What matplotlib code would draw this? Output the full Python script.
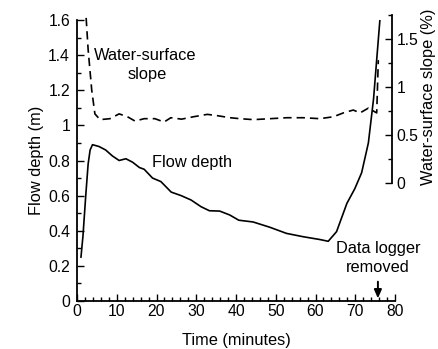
import matplotlib
matplotlib.use("Agg")
import matplotlib.pyplot as plt
from matplotlib.ticker import MultipleLocator

plt.rcParams['font.family'] = ['Liberation Sans', 'DejaVu Sans']

# Flow depth (m) vs time (minutes)
depth_time = [1.0, 1.5, 2.2, 2.8, 3.3, 3.9, 5.5, 7.2, 8.9, 10.6, 12.3, 14.0, 15.7, 16.9,
              19.0, 21.1, 23.7, 26.2, 28.7, 31.2, 33.3, 35.9, 38.4, 40.7, 44.3, 48.5,
              52.7, 56.9, 61.1, 63.2, 65.3, 67.9, 69.9, 71.6, 73.3, 74.6, 76.2]
depth_m = [0.25, 0.37, 0.60, 0.78, 0.86, 0.89, 0.88, 0.86, 0.826, 0.80, 0.81, 0.79, 0.76, 0.75,
           0.70, 0.68, 0.62, 0.60, 0.575, 0.537, 0.514, 0.512, 0.49, 0.46, 0.45, 0.42,
           0.385, 0.366, 0.35, 0.34, 0.395, 0.556, 0.64, 0.73, 0.90, 1.15, 1.60]

# Water-surface slope (%) vs time (minutes)
slope_time = [2.3, 2.8, 3.7, 4.5, 5.8, 8.3, 10.6, 12.7, 14.6, 16.9, 19.6, 21.9, 23.6,
              26.3, 29.3, 32.8, 35.5, 38.5, 41.0, 44.4, 48.6, 52.8, 56.9, 61.1, 64.5,
              67.0, 69.5, 71.2, 73.3, 75.4, 75.8]
slope_pct = [1.72, 1.39, 0.97, 0.72, 0.66, 0.67, 0.72, 0.69, 0.645, 0.67, 0.67, 0.635, 0.68,
             0.665, 0.69, 0.715, 0.70, 0.68, 0.67, 0.66, 0.67, 0.68, 0.68, 0.67, 0.69,
             0.73, 0.76, 0.73, 0.78, 0.73, 1.28]

FS = 11.8
TFS = 11.3

W, H = 438, 349
fig = plt.figure(figsize=(W / 100, H / 100), dpi=100)

x0, x1 = 77, 395
yb, yt = 301, 20
ax = fig.add_axes([x0 / W, (H - yb) / H, (x1 - x0) / W, (yb - yt) / H])
ax.plot(depth_time, depth_m, color='black', lw=1.2)
ax.set_xlim(0, 80)
ax.set_ylim(0, 1.6)
for s in ['top', 'right']:
    ax.spines[s].set_visible(False)
ax.spines['left'].set_linewidth(1.3)
ax.spines['bottom'].set_linewidth(1.3)
ax.xaxis.set_major_locator(MultipleLocator(10))
ax.xaxis.set_minor_locator(MultipleLocator(2))
ax.yaxis.set_major_locator(MultipleLocator(0.2))
ax.yaxis.set_minor_locator(MultipleLocator(0.1))
ax.tick_params(which='both', direction='in', width=1.0, labelsize=TFS, color='black')
ax.tick_params(which='major', length=5)
ax.tick_params(which='minor', length=3)
ax.tick_params(axis='y', pad=5)
ax.tick_params(axis='x', pad=2)
ax.set_yticks([0, 0.2, 0.4, 0.6, 0.8, 1.0, 1.2, 1.4, 1.6])
ax.set_yticklabels(['0', '0.2', '0.4', '0.6', '0.8', '1', '1.2', '1.4', '1.6'])
ax.set_xlabel('Time (minutes)', fontsize=FS, labelpad=10)
ax.set_ylabel('Flow depth (m)', fontsize=FS, labelpad=3)

# Secondary axes for slope
sb, st = 183, 15
ax2 = fig.add_axes([x0 / W, (H - sb) / H, (x1 - x0) / W, (sb - st) / H])
ax2.patch.set_alpha(0)
ax2.plot(slope_time, slope_pct, color='black', lw=1.2, linestyle=(0, (5, 3)))
ax2.set_xlim(0, 80)
ax2.set_ylim(0, 1.75)
for s in ['top', 'left', 'bottom']:
    ax2.spines[s].set_visible(False)
ax2.spines['right'].set_position(('data', 79.2))
ax2.spines['right'].set_linewidth(1.3)
ax2.set_xticks([])
ax2.yaxis.tick_right()
ax2.yaxis.set_major_locator(MultipleLocator(0.5))
ax2.yaxis.set_minor_locator(MultipleLocator(0.25))
ax2.set_yticks([0, 0.5, 1.0, 1.5])
ax2.set_yticklabels(['0', '0.5', '1', '1.5'])
ax2.tick_params(which='both', direction='in', width=1.0, labelsize=TFS, color='black')
ax2.tick_params(which='major', length=5)
ax2.tick_params(which='minor', length=3)

fig.text(429 / W, 1 - 97 / H, 'Water-surface slope (%)', rotation=90,
         ha='center', va='center', fontsize=FS)

ax.text(17.1, 1.40, 'Water-surface', ha='center', va='center', fontsize=FS)
ax.text(17.6, 1.287, 'slope', ha='center', va='center', fontsize=FS)
ax.text(28.9, 0.79, 'Flow depth', ha='center', va='center', fontsize=FS)
ax.text(75.7, 0.30, 'Data logger', ha='center', va='center', fontsize=FS)
ax.text(75.7, 0.19, 'removed', ha='center', va='center', fontsize=FS)
ax.annotate('', xy=(75.7, 0.015), xytext=(75.7, 0.11),
            arrowprops=dict(arrowstyle='-|>,head_length=0.5,head_width=0.22',
                            color='black', lw=1.4, mutation_scale=10,
                            shrinkA=0, shrinkB=0))

fig.savefig('out.png', dpi=100)
